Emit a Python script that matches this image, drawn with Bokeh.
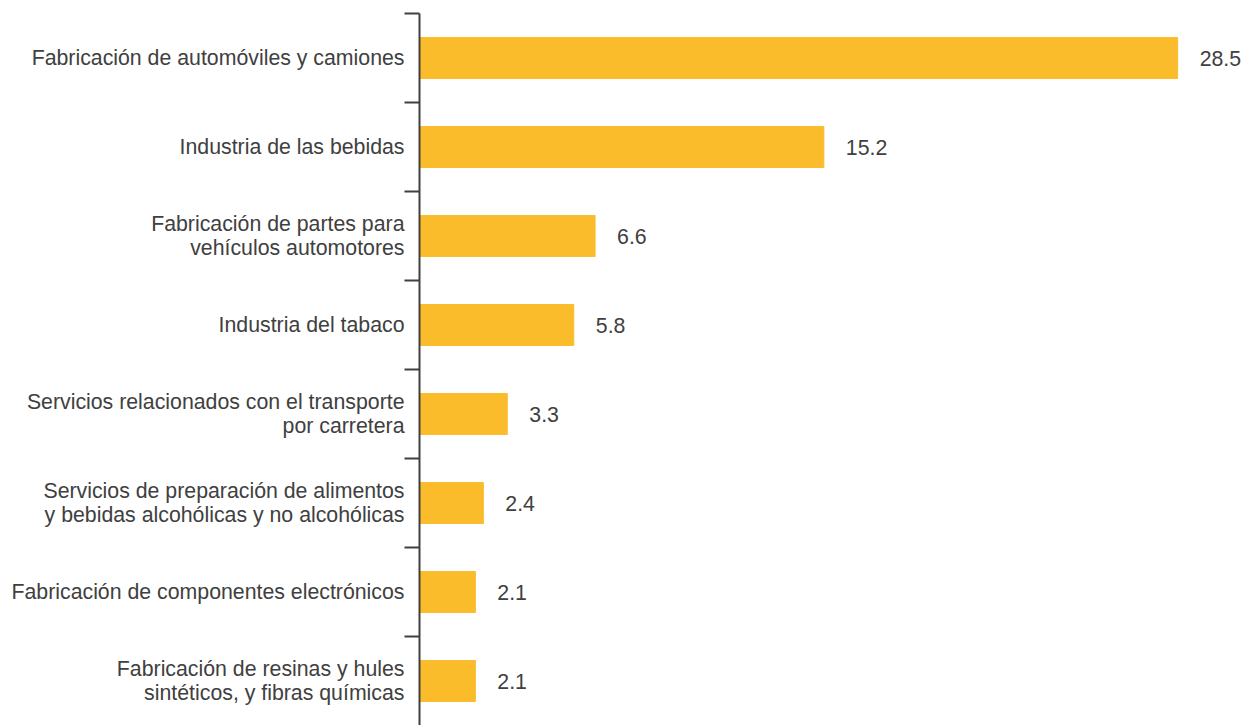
from bokeh.plotting import figure
from bokeh.models import ColumnDataSource, LabelSet, Range1d, FixedTicker
from bokeh.core.properties import value
from bokeh.embed import file_html
from bokeh.resources import INLINE

categories = [
    "Fabricación de automóviles y camiones",
    "Industria de las bebidas",
    "Fabricación de partes para\nvehículos automotores",
    "Industria del tabaco",
    "Servicios relacionados con el transporte\npor carretera",
    "Servicios de preparación de alimentos\ny bebidas alcohólicas y no alcohólicas",
    "Fabricación de componentes electrónicos",
    "Fabricación de resinas y hules\nsintéticos, y fibras químicas",
]
values = [28.5, 15.2, 6.6, 5.8, 3.3, 2.4, 2.1, 2.1]
value_labels = ["28.5", "15.2", "6.6", "5.8", "3.3", "2.4", "2.1", "2.1"]

n = len(categories)
ypos = [n - i - 0.5 for i in range(n)]
src = ColumnDataSource(dict(y=ypos, v=values, cat=categories, vl=value_labels))

BAR = "#FBBC2C"
TXT = "#404040"
FONT = "Liberation Sans"
LINE_GAP = 0.13  # half line spacing in category units

# one axis tick per label line so the line spacing can be set
label_ticks = []
label_text = {}
for y, c in zip(ypos, categories):
    lines = c.split("\n")
    k = len(lines)
    for j, line in enumerate(lines):
        t = round(y + (k - 1 - 2 * j) * LINE_GAP, 4)
        label_ticks.append(t)
        label_text[t] = line

p = figure(width=1241, height=725, output_backend="svg", toolbar_location=None,
           x_range=Range1d(0, 30.9), y_range=Range1d(0, n),
           min_border_left=419, min_border_right=0, min_border_top=13,
           min_border_bottom=0)
p.outline_line_color = None
p.xgrid.visible = False
p.ygrid.visible = False
p.xaxis.visible = False
p.background_fill_color = "white"
p.border_fill_color = "white"

p.hbar(y="y", right="v", left=0, height=0.46, color=BAR, source=src)

ax = p.yaxis[0]
ax.ticker = FixedTicker(ticks=label_ticks, minor_ticks=list(range(1, n + 1)))
ax.major_label_overrides = label_text
ax.major_label_text_font = FONT
ax.major_label_text_font_size = "21.3px"
ax.major_label_text_color = TXT
ax.major_label_standoff = 0
ax.axis_line_color = TXT
ax.axis_line_width = 2
ax.major_tick_line_color = None
ax.major_tick_out = 0
ax.major_tick_in = 0
ax.minor_tick_line_color = TXT
ax.minor_tick_line_width = 2
ax.minor_tick_out = 15
ax.minor_tick_in = 0

val_labels = LabelSet(x="v", y="y", text="vl", source=src, x_offset=22,
                      text_align="left", text_baseline="middle",
                      text_font=value(FONT), text_font_size=value("21.3px"),
                      text_color=TXT)
p.add_layout(val_labels)

open("out.html", "w").write(file_html(p, INLINE))
